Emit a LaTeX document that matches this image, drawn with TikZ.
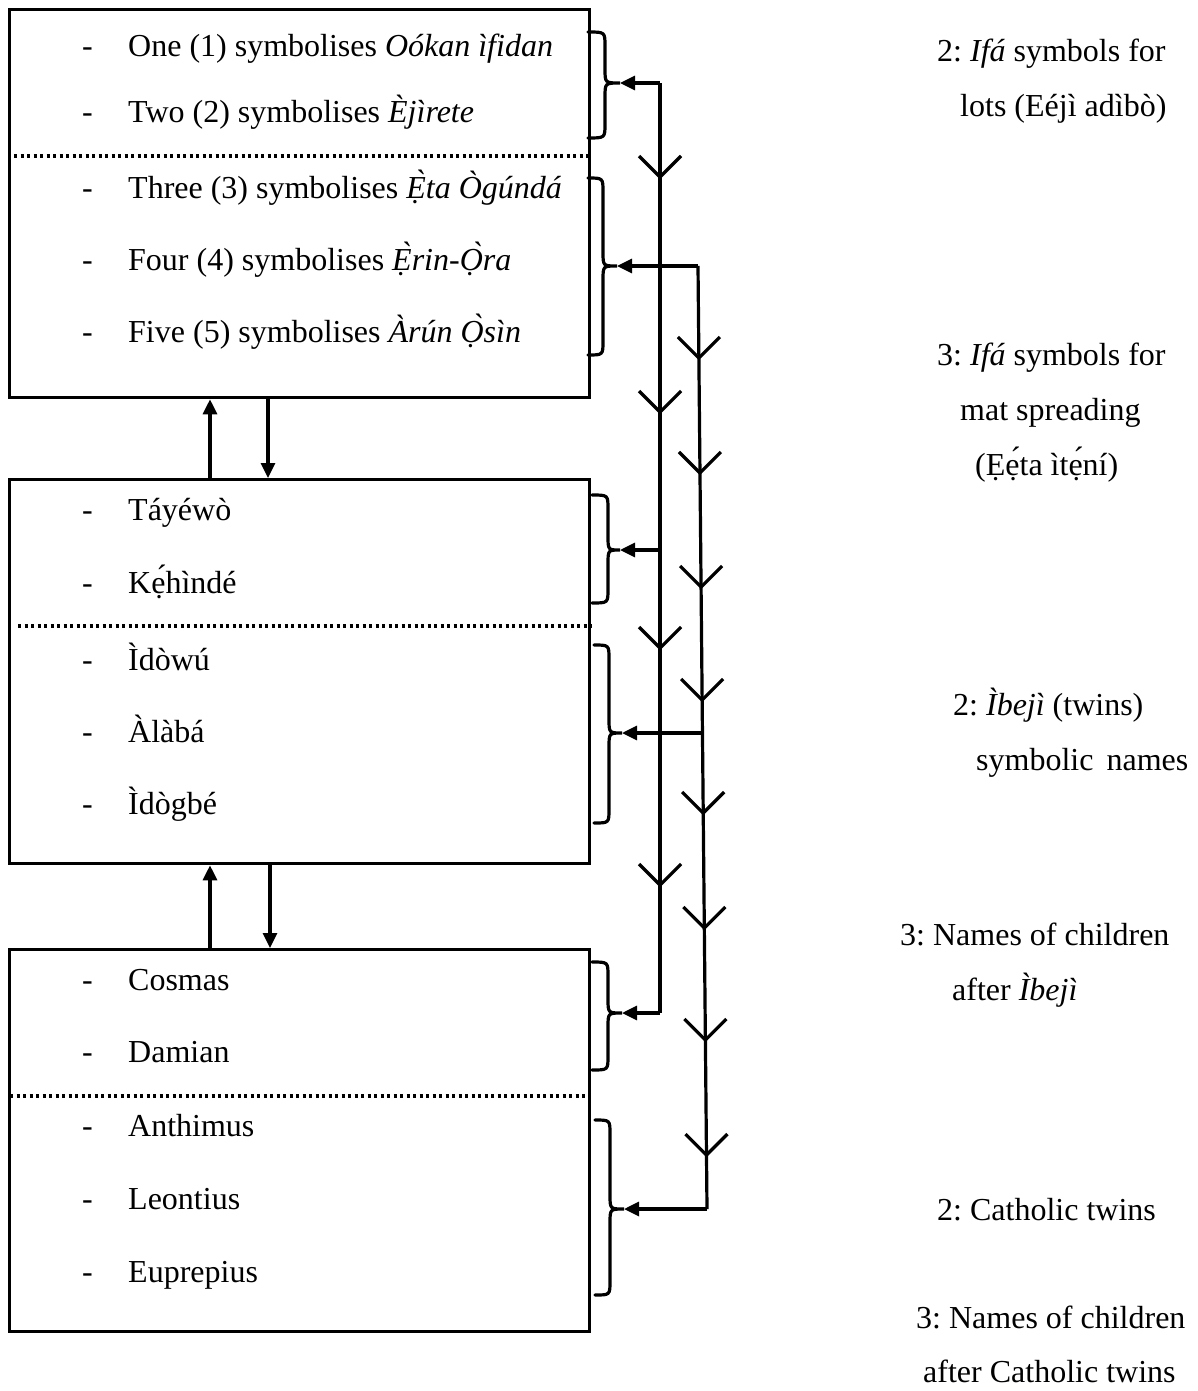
\documentclass[tikz,border=0pt]{standalone}
\usepackage{fontspec}
\setmainfont{Liberation Serif}
\usetikzlibrary{arrows.meta,calc}
\frenchspacing
\newcommand\mybrace[7]{%
  \draw[bracestyle] (#1,#4) .. controls (#2,#4) .. (#2,{#4+14}) -- (#2,{#5-14})
    .. controls (#2,#5) .. (#3,#5) .. controls (#2,#5) .. (#2,{#5+14})
    -- (#2,{#6-14}) .. controls (#2,#6) .. (#1,#6);
  \coordinate (#7) at (#3,#5);}
\begin{document}
\frenchspacing
\begin{tikzpicture}[x=1pt,y=-1pt,
  box/.style={draw, line width=3.3pt, anchor=north west, inner sep=0pt},
  txt/.style={anchor=base west, inner sep=0pt, font=\fontsize{32}{38}\selectfont\frenchspacing},
  dotline/.style={line width=3.3pt, dash pattern=on 3.3pt off 3.2pt},
  conn/.style={line width=3.2pt},
  arr/.style={conn, -{Triangle[length=15pt,width=14pt]}},
  bracestyle/.style={line width=3.2pt, line cap=round},
]
\useasboundingbox (0,0) rectangle (1197,1391);

% boxes
\node[box, minimum width=580pt, minimum height=388pt] (b1) at (8,8) {};
\node[box, minimum width=580pt, minimum height=384pt] (b2) at (8,478) {};
\node[box, minimum width=580pt, minimum height=382pt] (b3) at (8,948) {};

% dotted separators
\draw[dotline] (14,156) -- (588,156);
\draw[dotline] (18,626) -- (592,626);
\draw[dotline] (10,1096) -- (586,1096);

% dashes
\foreach \yy/\nm in {57/d11,123/d12,198/d13,270/d14,342/d15,
                    520/d21,593/d22,670/d23,742/d24,814/d25,
                    990/d31,1062/d32,1136/d33,1209/d34,1282/d35}
  \node[txt] (\nm) at (82,\yy) {-};
% box 1 text
\node[txt] (t11) at (128,57) {One (1) symbolises \textit{Oókan ìfidan}};
\node[txt] (t12) at (128,123) {Two (2) symbolises \textit{Èjìrete}};
\node[txt] (t13) at (128,198) {Three (3) symbolises \textit{Ẹ̀ta Ògúndá}};
\node[txt] (t14) at (128,270) {Four (4) symbolises \textit{Ẹ̀rin-Ọ̀ra}};
\node[txt] (t15) at (128,342) {Five (5) symbolises \textit{Àrún Ọ̀sìn}};
% box 2 text
\node[txt] (t21) at (128,520) {Táyéwò};
\node[txt] (t22) at (128,593) {Kẹ́hìndé};
\node[txt] (t23) at (128,670) {Ìdòwú};
\node[txt] (t24) at (128,742) {Àlàbá};
\node[txt] (t25) at (128,814) {Ìdògbé};
% box 3 text
\node[txt] (t31) at (128,990) {Cosmas};
\node[txt] (t32) at (128,1062) {Damian};
\node[txt] (t33) at (128,1136) {Anthimus};
\node[txt] (t34) at (128,1209) {Leontius};
\node[txt] (t35) at (128,1282) {Euprepius};

% arrows between boxes
\draw[arr] ([xshift=202pt]b2.north west) -- ([xshift=202pt]b1.south west);
\draw[arr] ([xshift=260pt]b1.south west) -- ([xshift=260pt]b2.north west);
\draw[arr] ([xshift=202pt]b3.north west) -- ([xshift=202pt]b2.south west);
\draw[arr] ([xshift=262pt]b2.south west) -- ([xshift=262pt]b3.north west);

% braces
\mybrace{588}{605}{620}{32}{83}{138}{k1}
\mybrace{588}{603}{617}{178}{266}{355}{k2}
\mybrace{592}{608}{620}{495}{550}{603}{k3}
\mybrace{594}{609}{622}{645}{733}{823}{k4}
\mybrace{592}{608}{622}{962}{1013}{1070}{k5}
\mybrace{595}{610}{624}{1120}{1209}{1295}{k6}

% vertical connector lines
\coordinate (L1) at (660,83);
\coordinate (L2) at (660,550);
\coordinate (L3) at (660,1013);
\coordinate (R1) at (698,266);
\coordinate (R2) at (702.5,733);
\coordinate (R3) at (707,1209);
\draw[conn] (L1) -- (L3);
\draw[conn] (R1) -- (R3);
\draw[arr] (L1) -- (k1);
\draw[arr] (L2) -- (k3);
\draw[arr] (L3) -- (k5);
\draw[arr] (R1) -- (k2);
\draw[arr] (R2) -- (k4);
\draw[arr] (R3) -- (k6);

% chevrons
\foreach \yy in {177,412,648,885}
  \draw[conn] (660,\yy) +(-21,-21) -- +(0,0) -- +(21,-21);
\foreach \yy in {358,473,587,700,813,928,1040,1155}
  \draw[conn] ($(R1)!{(\yy-266)/943}!(R3)$) +(-21,-21) -- +(0,0) -- +(21,-21);

% right labels
\node[txt] (r11) at (937,62) {2: \textit{Ifá} symbols for};
\node[txt] (r12) at (960,117) {lots (Eéjì adìbò)};
\node[txt] (r21) at (937,365) {3: \textit{Ifá} symbols for};
\node[txt] (r22) at (960,420) {mat spreading};
\node[txt] (r23) at (975,475) {(Ẹẹ́ta ìtẹ́ní)};
\node[txt] (r31) at (953,715) {2: \textit{Ìbejì} (twins)};
\node[txt] (r32) at (976,770) {symbolic\hspace{5pt} names};
\node[txt] (r41) at (900,945) {3: Names of children};
\node[txt] (r42) at (952,1000) {after \textit{Ìbejì}};
\node[txt] (r51) at (937,1220) {2: Catholic twins};
\node[txt] (r61) at (916,1328) {3: Names of children};
\node[txt] (r62) at (923,1382) {after Catholic twins};
\end{tikzpicture}
\end{document}
